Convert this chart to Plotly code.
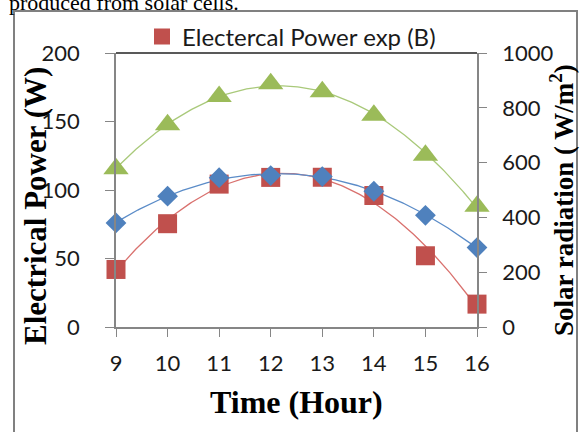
import numpy as np
import plotly.graph_objects as go

hours = [9, 10, 11, 12, 13, 14, 15, 16]
power_exp_b = [42, 75.4, 104.3, 109.2, 109.3, 96, 52, 16.7]
power_theory = [76, 95.5, 109, 110.5, 109.8, 99.1, 81.5, 58]
solar_rad = [578, 738, 841, 888, 859, 773, 627, 441]

x_ticks = [9, 10, 11, 12, 13, 14, 15, 16]
y1_ticks = [0, 50, 100, 150, 200]
y2_ticks = [0, 200, 400, 600, 800, 1000]

RED = "#c0504d"
BLUE = "#4f81bd"
GREEN = "#9bbb59"

xf = np.linspace(min(hours), max(hours), 200)

def trend(y):
    c = np.polyfit(hours, y, 2)
    return np.polyval(c, xf)

fig = go.Figure()

# trendlines
fig.add_trace(go.Scatter(x=xf, y=trend(solar_rad), mode="lines", yaxis="y2",
                         line=dict(color="#a9c97a", width=1.3), showlegend=False, hoverinfo="skip"))
fig.add_trace(go.Scatter(x=xf, y=trend(power_exp_b), mode="lines",
                         line=dict(color="#d9716e", width=1.3), showlegend=False, hoverinfo="skip"))
fig.add_trace(go.Scatter(x=xf, y=trend(power_theory), mode="lines",
                         line=dict(color="#5b8cc8", width=1.3), showlegend=False, hoverinfo="skip"))

# markers
fig.add_trace(go.Scatter(x=hours, y=solar_rad, mode="markers", yaxis="y2",
                         marker=dict(symbol="triangle-up", size=22, color=GREEN),
                         showlegend=False, cliponaxis=False))
fig.add_trace(go.Scatter(x=hours, y=power_exp_b, mode="markers", name="Electercal Power exp (B)",
                         marker=dict(symbol="square", size=19, color=RED),
                         showlegend=True, cliponaxis=False))
fig.add_trace(go.Scatter(x=hours, y=power_theory, mode="markers",
                         marker=dict(symbol="diamond", size=16, color=BLUE),
                         showlegend=False, cliponaxis=False))

L, R, T, B = 116, 477, 53, 327
W, H = 582, 432
PW, PH = R - L, B - T

def px(x):
    return (x - L) / PW

def py(y):
    return (B - y) / PH

sans = "Lato, Open Sans, sans-serif"
tickfont = dict(family=sans, size=22, color="#1a1a1a")
axcol = "#868686"

fig.update_layout(
    width=W, height=H,
    margin=dict(l=L, r=W - R, t=T, b=H - B, pad=0),
    paper_bgcolor="white", plot_bgcolor="white",
    xaxis=dict(range=[9, 16], tickvals=x_ticks, ticks="outside", ticklen=8, tickcolor=axcol,
               showline=True, linecolor=axcol, linewidth=1.5, showgrid=False, zeroline=False,
               tickfont=tickfont, ticklabelstandoff=8),
    yaxis=dict(range=[0, 200], tickvals=y1_ticks, ticks="outside", ticklen=9, tickcolor=axcol,
               showline=True, linecolor=axcol, linewidth=1.5, showgrid=False, zeroline=False,
               tickfont=tickfont, ticklabelstandoff=21),
    yaxis2=dict(range=[0, 1000], tickvals=y2_ticks, overlaying="y", side="right",
                ticks="outside", ticklen=8, tickcolor=axcol,
                showline=True, linecolor=axcol, linewidth=1.5, showgrid=False, zeroline=False,
                tickfont=tickfont, ticklabelstandoff=11),
    legend=dict(orientation="h", x=px(142), xanchor="left", y=py(37), yanchor="middle",
                font=dict(family=sans, size=24, color="#1a1a1a"),
                bgcolor="rgba(0,0,0,0)", itemwidth=30),
    showlegend=True,
)

# plot-area top border
fig.add_shape(type="line", xref="paper", yref="paper", x0=0, x1=1, y0=1, y1=1,
              line=dict(color="#222222", width=1.5))
# outer chart border
fig.add_shape(type="rect", xref="paper", yref="paper",
              x0=px(14), x1=px(577), y0=py(445), y1=py(11),
              line=dict(color="#808080", width=2), layer="below")

serif = "Liberation Serif, Times New Roman, serif"
fig.add_annotation(text="<b>Electrical Power (W)</b>", xref="paper", yref="paper",
                   x=px(36), y=py(206), textangle=-90, showarrow=False,
                   font=dict(family=serif, size=31, color="black"), xanchor="center", yanchor="middle")
fig.add_annotation(text="<b>Solar radiation ( W/m<sup>2</sup>)</b>", xref="paper", yref="paper",
                   x=px(562), y=py(200), textangle=-90, showarrow=False,
                   font=dict(family=serif, size=27, color="black"), xanchor="center", yanchor="middle")
fig.add_annotation(text="<b>Time (Hour)</b>", xref="paper", yref="paper",
                   x=px(296), y=py(402), showarrow=False,
                   font=dict(family=serif, size=32, color="black"), xanchor="center", yanchor="middle")
fig.add_annotation(text="produced from solar cells.", xref="paper", yref="paper",
                   x=px(7), y=py(17), showarrow=False, xanchor="left", yanchor="bottom",
                   font=dict(family=serif, size=22, color="black"))

fig.write_html("out.html", config={"displayModeBar": False},
               post_script="document.body.style.margin='0';document.body.style.overflow='hidden';")
